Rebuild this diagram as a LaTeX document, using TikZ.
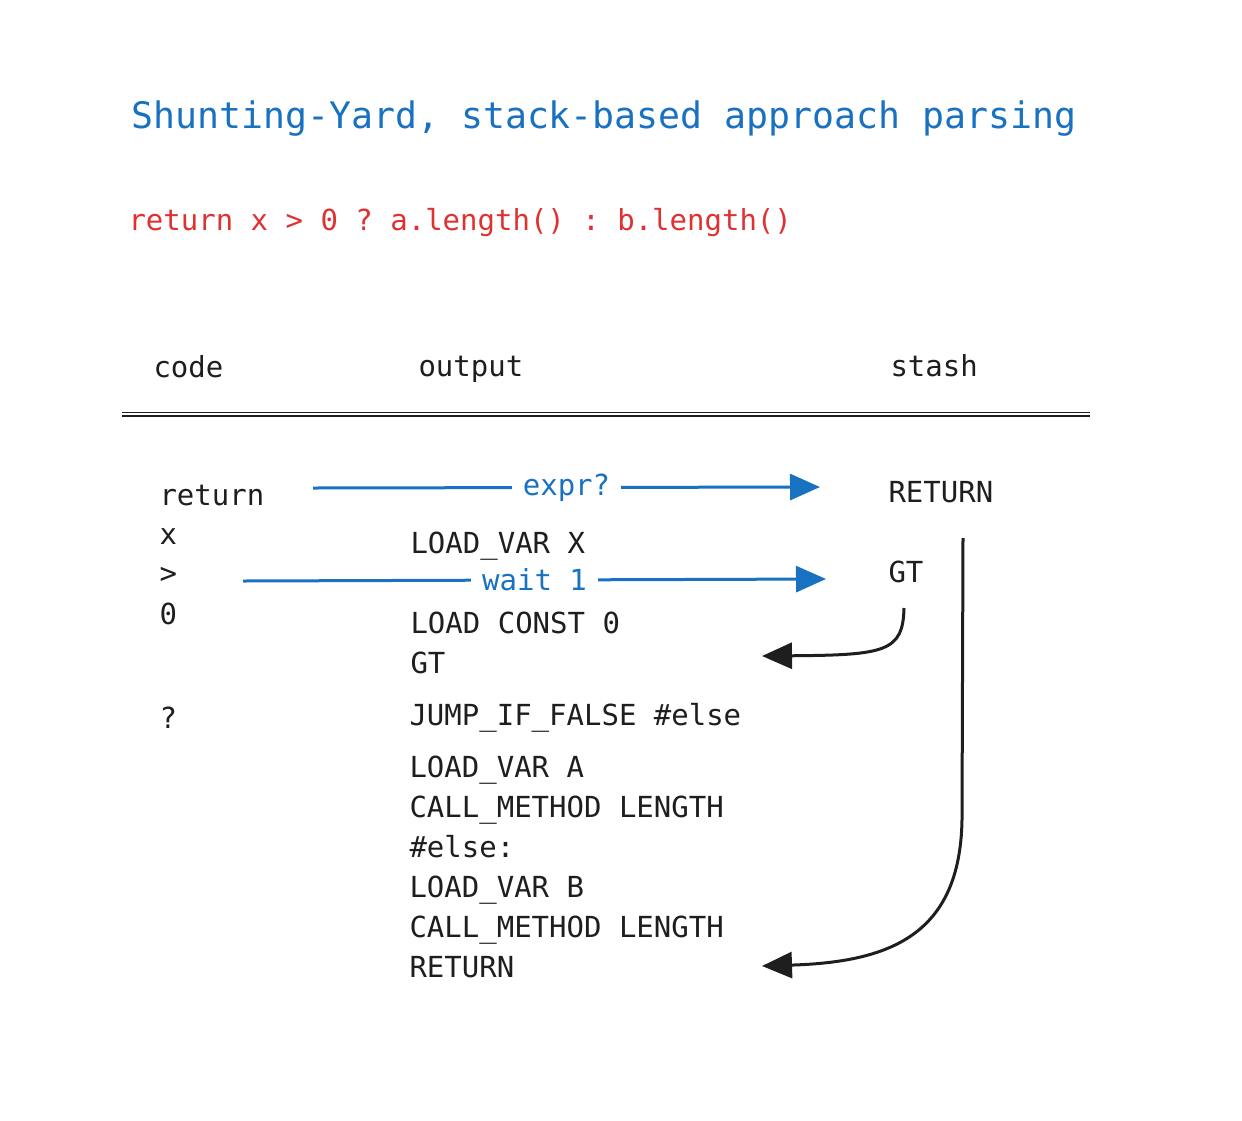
\documentclass[tikz,border=0pt]{standalone}
\usepackage{fontspec}
\setmonofont{DejaVu Sans Mono}
\usepackage{xcolor}
\usetikzlibrary{arrows.meta,positioning}

\definecolor{exblue}{HTML}{1971C2}
\definecolor{exred}{HTML}{E03131}
\definecolor{exink}{HTML}{1E1E1E}

\begin{document}
\begin{tikzpicture}[x=1pt, y=-1pt, >={Triangle[length=30pt,width=26pt]}, line width=3pt]
      \tikzstyle{every node}=[font=\ttfamily\fontsize{29}{34}\selectfont, text=exink, inner sep=0pt, anchor=base west]
      \tikzstyle{note}=[color=exblue, ->]
      \tikzstyle{notelabel}=[fill=white, text=exblue, anchor=center, inner xsep=11pt, inner ysep=4pt]
      \tikzstyle{back}=[color=exink, ->]

      \useasboundingbox (0,0) rectangle (1242,1120);

      \node (title) at (130,128) {\fontsize{36.5}{42}\selectfont\color{exblue}Shunting-Yard, stack-based approach parsing};
      \node (src) at (127,230) {\color{exred}return x > 0 ? a.length() : b.length()};

      % column heads
      \node (h-code) at (152,377) {code};
      \node (h-out) at (417,376) {output};
      \node (h-stash) at (889,376) {stash};
      \draw[exink, line width=1.8pt, double, double distance=1.4pt] (122,414) -- (1090,414);

      % code
      \node (code-ret) at (158,505) {return};
      \node (code-x) at (158,544) {x};
      \node (code-gt) at (158,583) {>};
      \node (code-0) at (158,624) {0};
      \node (code-q) at (158,728) {?};

      % output
      \node (out-1) at (409,553) {LOAD\_VAR X};
      \node (out-2) at (409,633) {LOAD CONST 0};
      \node (out-3) at (409,673) {GT};
      \node (out-4) at (408,725) {JUMP\_IF\_FALSE \#else};
      \node (out-5) at (408,777) {LOAD\_VAR A};
      \node (out-6) at (408,817) {CALL\_METHOD LENGTH};
      \node (out-7) at (408,857) {\#else:};
      \node (out-8) at (408,897) {LOAD\_VAR B};
      \node (out-9) at (408,937) {CALL\_METHOD LENGTH};
      \node (out-10) at (408,977) {RETURN};

      % stash
      \node (st-ret) at (887,502) {RETURN};
      \node (st-gt) at (887,582) {GT};

      \coordinate (expr-from) at (313,488);
      \coordinate (expr-to) at (820,487);
      \coordinate (wait-from) at (243,581);
      \coordinate (wait-to) at (826,579);
      \coordinate (gt-from) at (904,608);
      \coordinate (gt-to) at (762,656);
      \coordinate (ret-from) at (963,538);
      \coordinate (ret-to) at (762,966);

      \draw[note] (expr-from) -- node[notelabel] {expr?} (expr-to);
      \draw[note] (wait-from) -- node[notelabel] {wait 1} (wait-to);

      \draw[back] (gt-from) .. controls (903,652) and (885,655) .. (gt-to);
      \draw[back] (ret-from) -- (962,820) .. controls (960,935) and (890,962) .. (ret-to);

\end{tikzpicture}
\end{document}
